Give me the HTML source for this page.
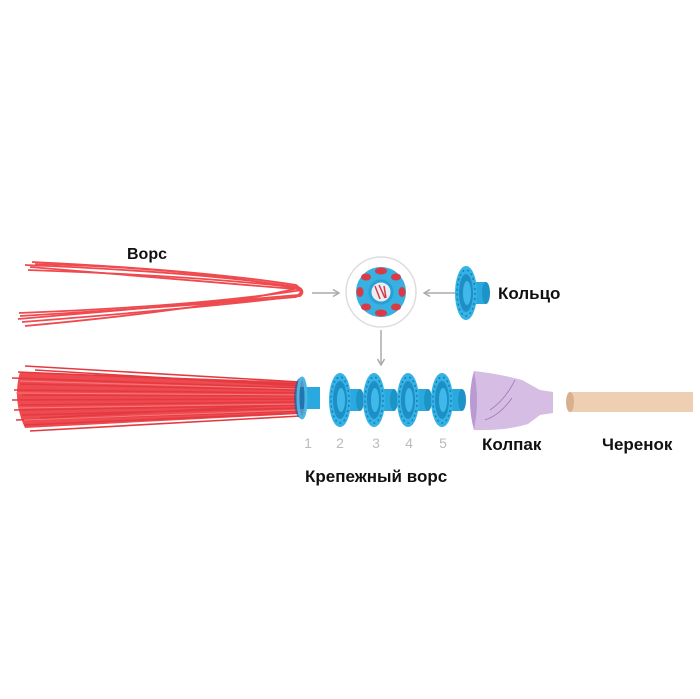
<!DOCTYPE html>
<html><head><meta charset="utf-8"><style>
html,body{margin:0;padding:0;background:#fff;}
svg{display:block}
text{font-family:"Liberation Sans",sans-serif;}
</style></head><body>
<svg width="700" height="699" viewBox="0 0 700 699" xmlns="http://www.w3.org/2000/svg">
<defs>
<marker id="ah" markerWidth="8" markerHeight="8" refX="7" refY="4" orient="auto" markerUnits="userSpaceOnUse">
<path d="M1,0.5 L7,4 L1,7.5" fill="none" stroke="#aaa" stroke-width="1.5"/>
</marker>
<g id="ring">
<rect x="0" y="-11" width="20" height="22" fill="#2aa9de"/>
<ellipse cx="20" cy="0" rx="4" ry="11" fill="#1e93c6"/>
<ellipse cx="0" cy="0" rx="11" ry="27" fill="#35b3e6"/>
<ellipse cx="0" cy="0" rx="7" ry="19" fill="#1e8fc4"/>
<ellipse cx="1" cy="0" rx="4" ry="12" fill="#3fb9ea"/>
<ellipse cx="0" cy="0" rx="9" ry="23" fill="none" stroke="#1a7fb2" stroke-width="1.5" stroke-dasharray="2 3"/>
</g>
</defs>
<!-- Loop bristles -->
<g fill="none" stroke="#ef4a4f" stroke-width="1.8">
<path d="M32,262 Q200,270 296,285 Q306,292 296,297 Q200,305 20,316"/>
<path d="M25,265 Q200,272 298,287 Q303,292 298,295 Q200,304 18,319"/>
<path d="M28,270 Q200,276 300,288 Q305,292 300,296 Q200,308 22,322"/>
<path d="M30,267 Q180,280 295,289 Q200,310 25,326"/>
<path d="M35,264 Q200,268 302,290 Q200,306 19,313"/>
</g>
<text x="127" y="259" font-size="16" font-weight="bold" fill="#111">Ворс</text>
<!-- arrows -->
<line x1="312" y1="293" x2="339" y2="293" stroke="#aaa" stroke-width="1.5" marker-end="url(#ah)"/>
<line x1="455" y1="293" x2="424" y2="293" stroke="#aaa" stroke-width="1.5" marker-end="url(#ah)"/>
<line x1="381" y1="330" x2="381" y2="365" stroke="#aaa" stroke-width="1.5" marker-end="url(#ah)"/>
<!-- circle assembly -->
<circle cx="381" cy="292" r="35" fill="#fff" stroke="#ddd" stroke-width="1.5"/>
<circle cx="381" cy="292" r="25" fill="#37b0e2"/>
<g fill="#d93a45">
<ellipse cx="381" cy="271" rx="6" ry="3.5"/><ellipse cx="396" cy="277" rx="5" ry="3.5"/>
<ellipse cx="402" cy="292" rx="3.5" ry="5"/><ellipse cx="396" cy="307" rx="5" ry="3.5"/>
<ellipse cx="381" cy="313" rx="6" ry="3.5"/><ellipse cx="366" cy="307" rx="5" ry="3.5"/>
<ellipse cx="360" cy="292" rx="3.5" ry="5"/><ellipse cx="366" cy="277" rx="5" ry="3.5"/>
</g>
<circle cx="381" cy="292" r="11" fill="#e9eef5" stroke="#2a9fd4" stroke-width="3"/>
<path d="M375,286 L380,299 M379,285 L385,298 M384,286 L386,298" stroke="#d93a45" stroke-width="1.5"/>
<!-- single ring -->
<use href="#ring" x="466" y="293"/>
<text x="498" y="299" font-size="17" font-weight="bold" fill="#111">Кольцо</text>
<!-- bristle bundle -->
<path d="M20,372 L300,382 L300,414 L25,428 Q12,400 20,372Z" fill="#ef4a4f"/>
<g fill="none" stroke="#e23a40" stroke-width="1.6">
<path d="M25,366 L300,382"/><path d="M18,372 L300,384"/><path d="M12,378 L298,388"/>
<path d="M20,384 L300,390"/><path d="M14,390 L300,393"/><path d="M22,395 L300,396"/>
<path d="M12,400 L300,399"/><path d="M20,405 L300,402"/><path d="M14,410 L300,405"/>
<path d="M22,415 L300,408"/><path d="M16,420 L300,411"/><path d="M24,425 L300,413"/>
<path d="M30,431 L300,416"/><path d="M35,370 L300,386"/><path d="M40,418 L300,404"/>
</g>
<g fill="none" stroke="#f57a7d" stroke-width="1">
<path d="M20,381 L300,389"/><path d="M16,393 L300,395"/><path d="M18,408 L300,404"/><path d="M24,420 L300,410"/>
</g>
<rect x="300" y="387" width="20" height="22" fill="#2aa9de"/>
<ellipse cx="300" cy="398" rx="6" ry="20" fill="#1e5f9c" opacity="0.7"/>
<ellipse cx="302" cy="398" rx="4" ry="20" fill="none" stroke="#4ab6e4" stroke-width="3"/>
<!-- rings 2-5 -->
<use href="#ring" x="340" y="400"/>
<use href="#ring" x="374" y="400"/>
<use href="#ring" x="408" y="400"/>
<use href="#ring" x="442" y="400"/>
<!-- numbers -->
<g font-size="14" fill="#bbb" text-anchor="middle">
<text x="308" y="448">1</text><text x="340" y="448">2</text><text x="376" y="448">3</text><text x="409" y="448">4</text><text x="443" y="448">5</text>
</g>
<!-- kolpak -->
<path d="M474,371 Q500,374 522,380 L540,390 L553,392 L553,413 L540,415 L528,424 Q505,431 474,430 Q466,400 474,371 Z" fill="#d5bde3"/>
<path d="M474,371 Q466,400 474,430 Q480,400 474,371Z" fill="#b99ad2"/>
<path d="M490,410 Q505,400 515,380 M485,420 Q500,415 512,398" stroke="#9b78b8" stroke-width="0.8" fill="none"/>
<!-- handle -->
<rect x="570" y="392" width="123" height="20" fill="#efcfb2"/>
<ellipse cx="570" cy="402" rx="4" ry="10" fill="#d9b08e"/>
<text x="482" y="450" font-size="17" font-weight="bold" fill="#111">Колпак</text>
<text x="602" y="450" font-size="17" font-weight="bold" fill="#111">Черенок</text>
<text x="305" y="482" font-size="17" font-weight="bold" fill="#111">Крепежный ворс</text>
</svg>
</body></html>
